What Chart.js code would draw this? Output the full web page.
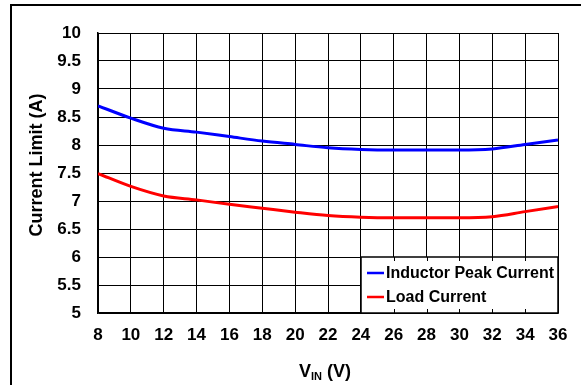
<!DOCTYPE html>
<html>
<head>
<meta charset="utf-8">
<script src="https://cdn.jsdelivr.net/npm/chart.js@4/dist/chart.umd.min.js"></script>
<style>
  html, body { margin: 0; padding: 0; background: #fff; }
  #wrap { width: 581px; height: 385px; }
</style>
</head>
<body>
<div id="wrap"><canvas id="chart" width="581" height="385"></canvas></div>
<script>
// Input voltage (V)
const vin = [8, 10, 12, 14, 16, 18, 20, 22, 24, 26, 28, 30, 32, 34, 36];
// Current limit (A)
const inductorPeak = [8.70, 8.48, 8.30, 8.23, 8.15, 8.07, 8.01, 7.95, 7.92, 7.91, 7.91, 7.91, 7.93, 8.01, 8.09];
const loadCurrent = [7.49, 7.26, 7.09, 7.02, 6.94, 6.87, 6.80, 6.74, 6.71, 6.70, 6.70, 6.70, 6.72, 6.81, 6.90];
const seriesNames = ['Inductor Peak Current', 'Load Current'];
const seriesColors = ['#0000ff', '#ff0000'];

const FONT = '"Liberation Sans", Arial, sans-serif';

function toPoints(ys) {
    return vin.map((x, i) => ({ x: x, y: ys[i] }));
}

// Draws the frame, axis titles and the boxed legend
const decorations = {
    id: 'decorations',
    afterDraw(chart) {
        const ctx = chart.ctx;
        const area = chart.chartArea;
        ctx.save();

        // outer frame (top and left edges only)
        ctx.fillStyle = '#000';
        ctx.fillRect(10, 4, 571, 2);
        ctx.fillRect(10, 4, 2, 381);

        // y axis title
        ctx.save();
        ctx.translate(37, 165);
        ctx.rotate(-Math.PI / 2);
        ctx.font = 'bold 18px ' + FONT;
        ctx.textAlign = 'center';
        ctx.textBaseline = 'middle';
        ctx.fillText('Current Limit (A)', 0, 0);
        ctx.restore();

        // x axis title with subscript: V_IN (V)
        const big = 'bold 18px ' + FONT;
        const small = 'bold 11px ' + FONT;
        ctx.textBaseline = 'alphabetic';
        ctx.textAlign = 'left';
        ctx.font = big;
        const wV = ctx.measureText('V').width;
        const wRest = ctx.measureText(' (V)').width;
        ctx.font = small;
        const wIn = ctx.measureText('IN').width;
        let tx = 325 - (wV + wIn + wRest) / 2;
        const ty = 377;
        ctx.font = big;
        ctx.fillText('V', tx, ty);
        tx += wV;
        ctx.font = small;
        ctx.fillText('IN', tx, ty + 3);
        tx += wIn;
        ctx.font = big;
        ctx.fillText(' (V)', tx, ty);

        // legend box
        const lx = 361, ly = 257, lw = area.right - 361, lh = area.bottom - 257;
        ctx.fillStyle = '#fff';
        ctx.fillRect(lx, ly, lw, lh);
        ctx.strokeStyle = '#000';
        ctx.lineWidth = 1.5;
        ctx.strokeRect(lx, ly, lw, lh);

        // small tick stubs at top and bottom of the legend box
        const xScale = chart.scales.x;
        ctx.lineWidth = 1;
        vin.forEach(v => {
            const px = Math.round(xScale.getPixelForValue(v)) + 0.5;
            if (px > lx + 2 && px < lx + lw - 2) {
                ctx.beginPath();
                ctx.moveTo(px, ly);
                ctx.lineTo(px, ly + 4);
                ctx.moveTo(px, ly + lh);
                ctx.lineTo(px, ly + lh - 4);
                ctx.stroke();
            }
        });

        ctx.font = 'bold 16px ' + FONT;
        ctx.textBaseline = 'middle';
        chart.data.datasets.forEach((ds, i) => {
            const iy = 273 + i * 24;
            ctx.strokeStyle = ds.borderColor;
            ctx.lineWidth = 2.5;
            ctx.beginPath();
            ctx.moveTo(367, iy);
            ctx.lineTo(384, iy);
            ctx.stroke();
            ctx.fillStyle = '#000';
            ctx.fillText(ds.label, 386, iy + 1);
        });

        ctx.restore();
    }
};

const ctx = document.getElementById('chart').getContext('2d');
new Chart(ctx, {
    type: 'line',
    data: {
        datasets: [
            {
                label: seriesNames[0],
                data: toPoints(inductorPeak),
                borderColor: seriesColors[0],
                borderWidth: 3,
                pointRadius: 0,
                cubicInterpolationMode: 'monotone',
                fill: false
            },
            {
                label: seriesNames[1],
                data: toPoints(loadCurrent),
                borderColor: seriesColors[1],
                borderWidth: 3,
                pointRadius: 0,
                cubicInterpolationMode: 'monotone',
                fill: false
            }
        ]
    },
    options: {
        responsive: false,
        devicePixelRatio: 1,
        animation: false,
        layout: { padding: { left: 0, top: 33, right: 23, bottom: 0 } },
        plugins: {
            legend: { display: false },
            tooltip: { enabled: false }
        },
        scales: {
            x: {
                type: 'linear',
                min: 8,
                max: 36,
                afterFit(scale) { scale.height = 72; },
                ticks: {
                    stepSize: 2,
                    color: '#000',
                    padding: 12,
                    maxRotation: 0,
                    font: { family: FONT, size: 17, weight: 'bold' }
                },
                grid: { color: '#000', lineWidth: 1, drawTicks: false },
                border: { display: true, color: '#000', width: 1.5 }
            },
            y: {
                min: 5,
                max: 10,
                afterFit(scale) { scale.width = 98; },
                ticks: {
                    stepSize: 0.5,
                    color: '#000',
                    padding: 17,
                    font: { family: FONT, size: 17, weight: 'bold' },
                    callback: v => String(Number(v.toFixed(1)))
                },
                grid: { color: '#000', lineWidth: 1, drawTicks: false },
                border: { display: true, color: '#000', width: 1.5 }
            }
        }
    },
    plugins: [decorations]
});
</script>
</body>
</html>
